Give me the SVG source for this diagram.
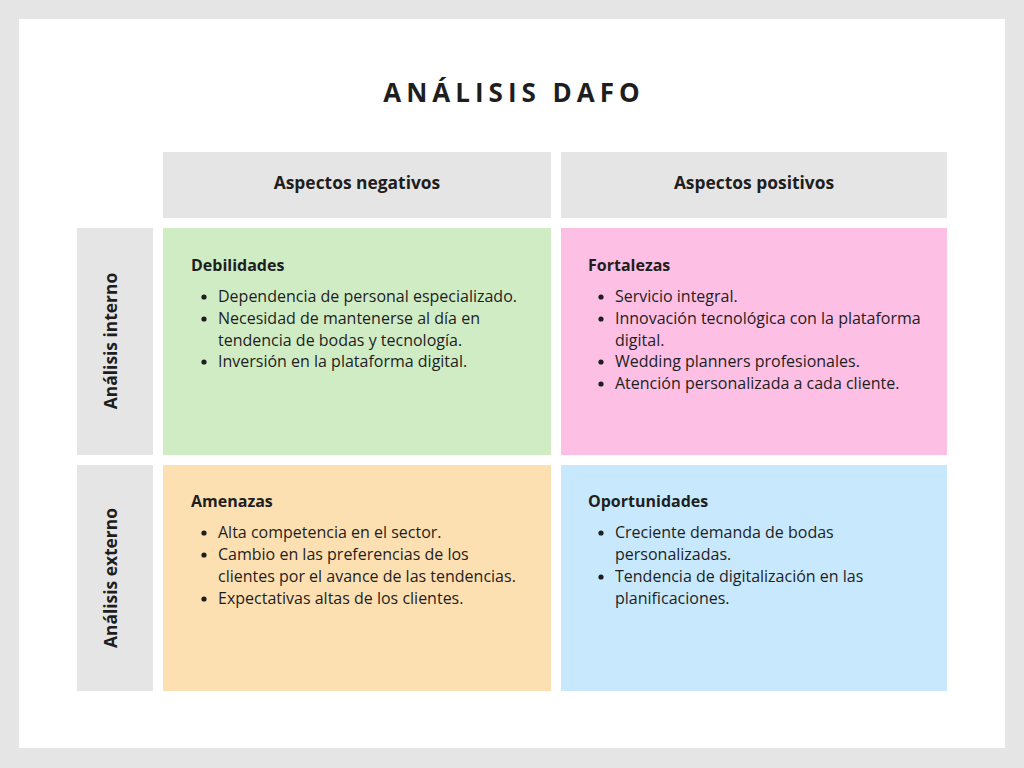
<svg xmlns="http://www.w3.org/2000/svg" width="1024" height="768" viewBox="0 0 1024 768">
<style>
text{font-family:"Open Sans","Noto Sans","Liberation Sans",sans-serif;fill:#1e1e1e}
.title{font-size:26px;font-weight:700;letter-spacing:5px}
.hdr{font-size:17.4px;font-weight:700}
.h{font-size:16px;font-weight:700}
.t{font-size:16px}
.grey{fill:#e5e5e5}
.b{fill:#1e1e1e}
</style>
<defs><circle id="dot" r="2.6"/></defs>
<rect x="0" y="0" width="1024" height="768" fill="#e5e5e5"/>
<rect x="19" y="19" width="986" height="729" fill="#ffffff"/>
<text class="title" x="514" y="102" text-anchor="middle">ANÁLISIS DAFO</text>
<g id="hdr-neg"><rect class="grey" x="163" y="152" width="388" height="66"/><text class="hdr" x="357" y="189" text-anchor="middle">Aspectos negativos</text></g>
<g id="hdr-pos"><rect class="grey" x="561" y="152" width="386" height="66"/><text class="hdr" x="754" y="189" text-anchor="middle">Aspectos positivos</text></g>
<g id="row-int"><rect class="grey" x="77" y="228" width="76" height="227"/><text class="hdr" transform="translate(117,341) rotate(-90)" text-anchor="middle">Análisis interno</text></g>
<g id="row-ext"><rect class="grey" x="77" y="465" width="76" height="226"/><text class="hdr" transform="translate(117,578) rotate(-90)" text-anchor="middle">Análisis externo</text></g>
<g id="debilidades">
<rect x="163" y="228" width="388" height="227" fill="#d0ecc5"/>
<text class="h" x="191" y="271">Debilidades</text>
<g class="b"><use href="#dot" x="204" y="297"/><use href="#dot" x="204" y="319"/><use href="#dot" x="204" y="362"/></g>
<text class="t" x="218" y="302">Dependencia de personal especializado.</text>
<text class="t" x="218" y="324">Necesidad de mantenerse al día en</text>
<text class="t" x="218" y="346">tendencia de bodas y tecnología.</text>
<text class="t" x="218" y="367">Inversión en la plataforma digital.</text>
</g>
<g id="fortalezas">
<rect x="561" y="228" width="386" height="227" fill="#fdbfe4"/>
<text class="h" x="588" y="271">Fortalezas</text>
<g class="b"><use href="#dot" x="601" y="297"/><use href="#dot" x="601" y="319"/><use href="#dot" x="601" y="362"/><use href="#dot" x="601" y="384"/></g>
<text class="t" x="615" y="302">Servicio integral.</text>
<text class="t" x="615" y="324">Innovación tecnológica con la plataforma</text>
<text class="t" x="615" y="346">digital.</text>
<text class="t" x="615" y="367">Wedding planners profesionales.</text>
<text class="t" x="615" y="389">Atención personalizada a cada cliente.</text>
</g>
<g id="amenazas">
<rect x="163" y="465" width="388" height="226" fill="#fde0b2"/>
<text class="h" x="191" y="507">Amenazas</text>
<g class="b"><use href="#dot" x="204" y="533"/><use href="#dot" x="204" y="555"/><use href="#dot" x="204" y="599"/></g>
<text class="t" x="218" y="538">Alta competencia en el sector.</text>
<text class="t" x="218" y="560">Cambio en las preferencias de los</text>
<text class="t" x="218" y="582">clientes por el avance de las tendencias.</text>
<text class="t" x="218" y="604">Expectativas altas de los clientes.</text>
</g>
<g id="oportunidades">
<rect x="561" y="465" width="386" height="226" fill="#c8e9fd"/>
<text class="h" x="588" y="507">Oportunidades</text>
<g class="b"><use href="#dot" x="601" y="533"/><use href="#dot" x="601" y="577"/></g>
<text class="t" x="615" y="538">Creciente demanda de bodas</text>
<text class="t" x="615" y="560">personalizadas.</text>
<text class="t" x="615" y="582">Tendencia de digitalización en las</text>
<text class="t" x="615" y="604">planificaciones.</text>
</g>
<g id="connectors"></g>
</svg>
